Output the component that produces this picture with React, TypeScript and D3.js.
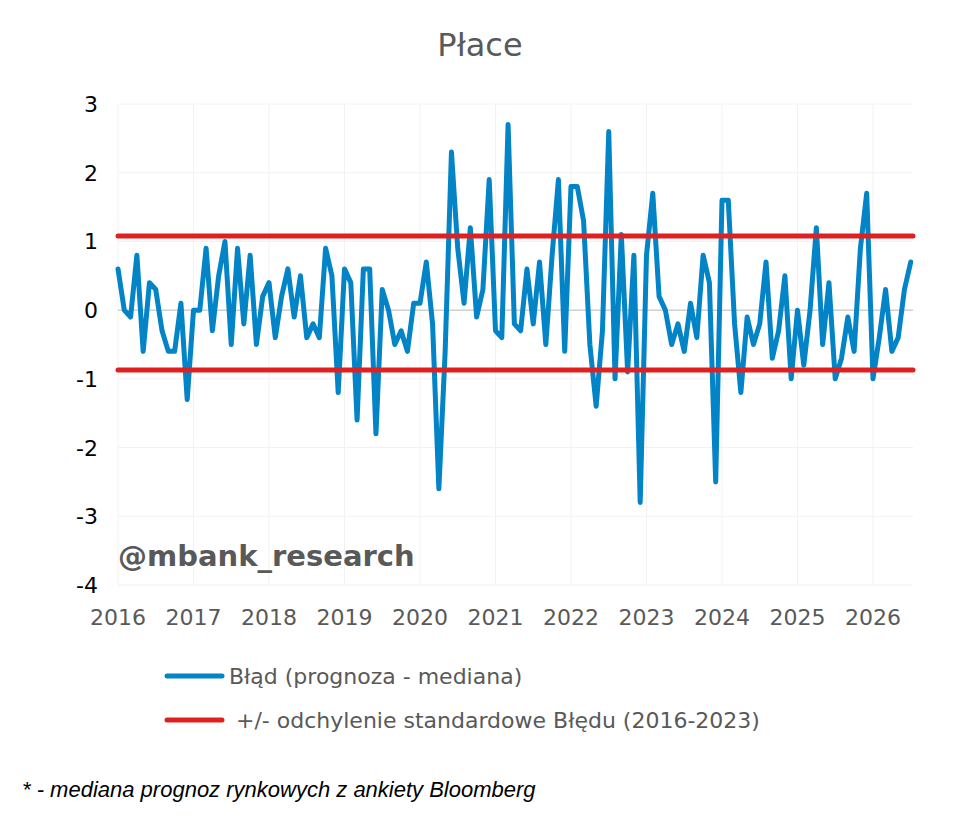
import React from 'react';
import * as d3 from 'd3';

const years = [2016, 2017, 2018, 2019, 2020, 2021, 2022, 2023, 2024, 2025, 2026];
const yTicks = [3, 2, 1, 0, -1, -2, -3, -4];
const errors = [
  0.6, 0.0, -0.1, 0.8, -0.6, 0.4, 0.3, -0.3, -0.6, -0.6, 0.1, -1.3,
  0.0, 0.0, 0.9, -0.3, 0.5, 1.0, -0.5, 0.9, -0.2, 0.8, -0.5, 0.2,
  0.4, -0.4, 0.2, 0.6, -0.1, 0.5, -0.4, -0.2, -0.4, 0.9, 0.5, -1.2,
  0.6, 0.4, -1.6, 0.6, 0.6, -1.8, 0.3, 0.0, -0.5, -0.3, -0.6, 0.1,
  0.1, 0.7, -0.2, -2.6, -0.6, 2.3, 0.9, 0.1, 1.2, -0.1, 0.3, 1.9,
  -0.3, -0.4, 2.7, -0.2, -0.3, 0.6, -0.2, 0.7, -0.5, 0.8, 1.9,
  -0.6, 1.8, 1.8, 1.3, -0.5, -1.4, -0.3, 2.6, -1.0, 1.1, -0.9, 0.8,
  -2.8, 0.8, 1.7, 0.2, 0.0, -0.5, -0.2, -0.6, 0.1, -0.4, 0.8, 0.4,
  -2.5, 1.6, 1.6, -0.2, -1.2, -0.1, -0.5, -0.2, 0.7, -0.7, -0.3, 0.5,
  -1.0, 0.0, -0.8, 0.0, 1.2, -0.5, 0.4, -1.0, -0.7, -0.1, -0.6, 0.9,
  1.7, -1.0, -0.4, 0.3, -0.6, -0.4, 0.3, 0.7,
];
const stdUpper = 1.08;
const stdLower = -0.87;

export default function App() {
  const W = 960, H = 819;
  const x = d3.scaleLinear().domain([2016, 2026.53]).range([118, 913]);
  const y = d3.scaleLinear().domain([-4, 3]).range([585, 104]);
  const t = (i: number) => 2016 + i / 12;
  const line = d3.line<number>().x((_, i) => x(t(i))).y(d => y(d));
  const font = 'DejaVu Sans, Verdana, sans-serif';
  return (
    <svg width={W} height={H} style={{ display: 'block', margin: -8 }}>
      <rect width={W} height={H} fill="#fff" />
      <text x={480} y={56} textAnchor="middle" fontFamily={font} fontSize={32} fill="#595959">Płace</text>
      {years.map(yr => (
        <line key={yr} x1={x(yr)} x2={x(yr)} y1={y(3)} y2={y(-4)} stroke="#f2f2f2" />
      ))}
      {yTicks.map(v => (
        <line key={v} x1={x(2016)} x2={913} y1={y(v)} y2={y(v)} stroke={v === 0 ? '#d0d0d0' : '#f2f2f2'} strokeWidth={v === 0 ? 1.5 : 1} />
      ))}
      {yTicks.map(v => (
        <text key={v} x={98} y={y(v) + 8} textAnchor="end" fontFamily={font} fontSize={22} fill="#000">{v}</text>
      ))}
      {years.map(yr => (
        <text key={yr} x={x(yr)} y={625} textAnchor="middle" fontFamily={font} fontSize={22} fill="#595959">{yr}</text>
      ))}
      <text x={118} y={566} fontFamily={font} fontSize={29} fontWeight="bold" fill="#595959">@mbank_research</text>
      <path d={line(errors) || ''} fill="none" stroke="#0284c7" strokeWidth={5} strokeLinejoin="round" strokeLinecap="round" />
      {[stdUpper, stdLower].map(v => (
        <line key={v} x1={x(2016)} x2={913} y1={y(v)} y2={y(v)} stroke="#e02020" strokeWidth={5} strokeLinecap="round" />
      ))}
      <line x1={167} x2={222} y1={676} y2={676} stroke="#0284c7" strokeWidth={5} strokeLinecap="round" />
      <text x={229} y={684} fontFamily={font} fontSize={22} fill="#595959">Błąd (prognoza - mediana)</text>
      <line x1={167} x2={222} y1={720} y2={720} stroke="#e02020" strokeWidth={5} strokeLinecap="round" />
      <text x={229} y={728} fontFamily={font} fontSize={22} fill="#595959" xmlSpace="preserve"> +/- odchylenie standardowe Błędu (2016-2023)</text>
      <text x={22} y={797} fontFamily="Liberation Sans, Arial, sans-serif" fontStyle="italic" fontSize={22} fill="#000">* - mediana prognoz rynkowych z ankiety Bloomberg</text>
    </svg>
  );
}
